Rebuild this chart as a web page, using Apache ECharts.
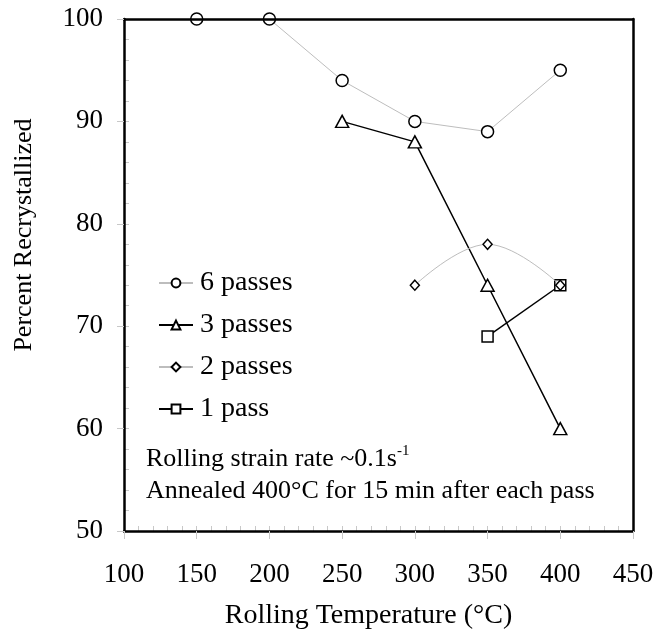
<!DOCTYPE html>
<html>
<head>
<meta charset="utf-8">
<script src="https://cdn.jsdelivr.net/npm/echarts@6/dist/echarts.min.js"></script>
<style>
  html, body { margin: 0; padding: 0; background: #fff; }
  #chart { width: 668px; height: 635px; }
</style>
</head>
<body>
<div id="chart"></div>
<script>
// data
const names = ['6 passes', '3 passes', '2 passes', '1 pass'];
const temps6 = [150, 200, 250, 300, 350, 400];
const pct6 = [100, 100, 94, 90, 89, 95];
const temps3 = [250, 300, 350, 400];
const pct3 = [90, 88, 74, 60];
const temps2 = [300, 350, 400];
const pct2 = [74, 78, 74];
const temps1 = [350, 400];
const pct1 = [69, 74];

const FONT = '"Liberation Serif", "Times New Roman", serif';
const tickGray = '#c8c8c8';
const frame = { show: true, lineStyle: { color: '#000', width: 2.5 } };

function pairs(xs, ys) {
  return xs.map((x, i) => [x, ys[i]]);
}

const chart = echarts.init(document.getElementById('chart'), null, { renderer: 'canvas' });

const markerStyle = {
  color: '#fff',
  borderColor: '#000',
  borderWidth: 1.5
};

const option = {
  animation: false,
  backgroundColor: '#fff',
  grid: {
    left: 124,
    right: 35,
    top: 19,
    bottom: 103,
    show: false
  },
  legend: {
    data: names,
    orient: 'vertical',
    left: 158,
    top: 269,
    padding: 0,
    itemWidth: 34,
    itemHeight: 11,
    itemGap: 14,
    textStyle: { fontFamily: FONT, fontSize: 28, color: '#000', padding: [0, 0, 0, 2] }
  },
  xAxis: [{
    type: 'value',
    min: 100,
    max: 450,
    interval: 50,
    position: 'bottom',
    z: 10,
    name: 'Rolling Temperature (°C)',
    nameLocation: 'middle',
    nameGap: 71,
    nameTextStyle: { fontFamily: FONT, fontSize: 28, color: '#000', padding: [0, 20, 0, 0] },
    axisLine: frame,
    axisTick: { show: true, inside: false, length: 8, lineStyle: { color: tickGray } },
    axisLabel: { fontFamily: FONT, fontSize: 27, color: '#000', margin: 30 },
    splitLine: { show: false }
  }, {
    type: 'value',
    min: 100,
    max: 450,
    interval: 10,
    position: 'bottom',
    axisLine: { show: false },
    axisTick: { show: true, inside: true, length: 5, lineStyle: { color: tickGray } },
    axisLabel: { show: false },
    splitLine: { show: false }
  }, {
    type: 'value',
    min: 100,
    max: 450,
    position: 'top',
    z: 10,
    axisLine: frame,
    axisTick: { show: false },
    axisLabel: { show: false },
    splitLine: { show: false }
  }],
  yAxis: [{
    type: 'value',
    min: 50,
    max: 100,
    interval: 10,
    position: 'left',
    z: 10,
    name: 'Percent Recrystallized',
    nameLocation: 'middle',
    nameGap: 87,
    nameTextStyle: { fontFamily: FONT, fontSize: 26, color: '#000', padding: [0, 0, 0, 80] },
    axisLine: frame,
    axisTick: { show: true, inside: false, length: 7, lineStyle: { color: tickGray } },
    axisLabel: { fontFamily: FONT, fontSize: 27, color: '#000', margin: 21 },
    splitLine: { show: false }
  }, {
    type: 'value',
    min: 50,
    max: 100,
    interval: 2,
    position: 'left',
    axisLine: { show: false },
    axisTick: { show: true, inside: true, length: 5, lineStyle: { color: tickGray } },
    axisLabel: { show: false },
    splitLine: { show: false }
  }, {
    type: 'value',
    min: 50,
    max: 100,
    position: 'right',
    z: 10,
    axisLine: frame,
    axisTick: { show: false },
    axisLabel: { show: false },
    splitLine: { show: false }
  }],
  graphic: [{
    type: 'text',
    left: 146,
    top: 444,
    style: {
      text: '{a|Rolling strain rate ~0.1s}{b|-1}',
      rich: {
        a: { fontFamily: FONT, fontSize: 26, fill: '#000', lineHeight: 28, verticalAlign: 'bottom' },
        b: { fontFamily: FONT, fontSize: 15, fill: '#000', lineHeight: 28, verticalAlign: 'top' }
      }
    }
  }, {
    type: 'text',
    left: 146,
    top: 478,
    style: {
      text: 'Annealed 400°C for 15 min after each pass',
      font: '26px ' + FONT,
      fill: '#000'
    }
  }],
  series: [{
    name: names[0],
    type: 'line',
    data: pairs(temps6, pct6),
    symbol: 'circle',
    symbolSize: 12,
    lineStyle: { color: '#bdbdbd', width: 1 },
    itemStyle: markerStyle,
    z: 3
  }, {
    name: names[1],
    type: 'line',
    data: pairs(temps3, pct3),
    symbol: 'triangle',
    symbolSize: [13, 12],
    lineStyle: { color: '#000', width: 1.5 },
    itemStyle: markerStyle,
    z: 4
  }, {
    name: names[3],
    type: 'line',
    data: pairs(temps1, pct1),
    symbol: 'rect',
    symbolSize: 11,
    lineStyle: { color: '#000', width: 1.5 },
    itemStyle: markerStyle,
    z: 5
  }, {
    name: names[2],
    type: 'line',
    data: pairs(temps2, pct2),
    symbol: 'diamond',
    symbolSize: [9, 10],
    smooth: 0.4,
    lineStyle: { color: '#bdbdbd', width: 1 },
    itemStyle: markerStyle,
    z: 6
  }]
};

chart.setOption(option);
</script>
</body>
</html>
